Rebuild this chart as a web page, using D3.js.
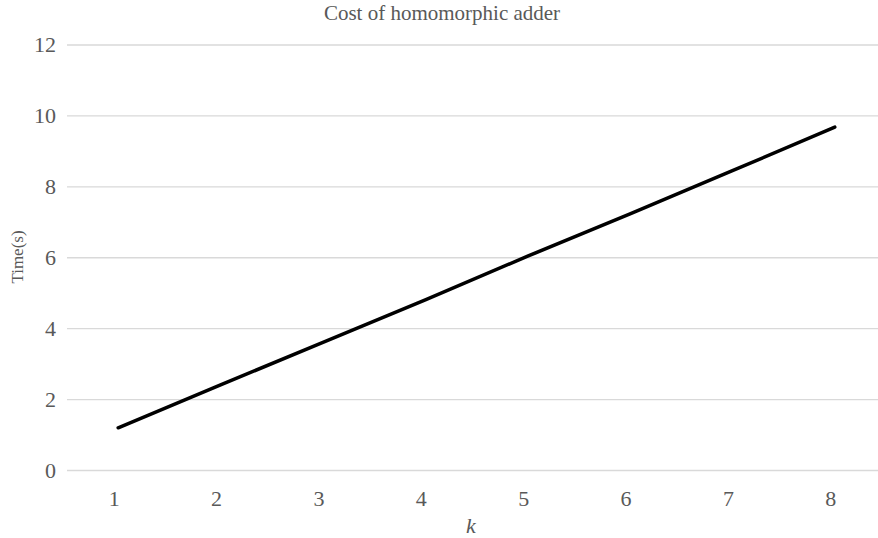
<!DOCTYPE html>
<html>
<head>
<meta charset="utf-8">
<script src="https://cdnjs.cloudflare.com/ajax/libs/d3/7.8.5/d3.min.js"></script>
<style>
  body { margin: 0; background: #fff; }
  #graphic svg, #graphic text { font-family: "Liberation Serif", "Times New Roman", serif; fill: #595959; }
</style>
</head>
<body>
<div id="graphic"></div>
<script>
// values
const categories = ["1", "2", "3", "4", "5", "6", "7", "8"];
const timeValues = [1.19, 2.40, 3.60, 4.80, 6.03, 7.22, 8.44, 9.67];
const yTicks = [0, 2, 4, 6, 8, 10, 12];

const outerWidth = 878;
const outerHeight = 538;
const plotLeft = 67;
const plotRight = 886;
const plotTop = 44.5;
const plotBottom = 470;

const svg = d3.select("#graphic")
  .append("svg")
  .attr("width", outerWidth)
  .attr("height", outerHeight);

const xScale = d3.scaleBand()
  .domain(categories)
  .range([plotLeft, plotRight])
  .padding(0);

const yScale = d3.scaleLinear()
  .domain([0, 12])
  .range([plotBottom, plotTop]);

// y axis with grid lines
const yAxis = d3.axisLeft(yScale)
  .tickValues(yTicks)
  .tickSize(-(plotRight - plotLeft))
  .tickPadding(11);

const yG = svg.append("g")
  .attr("class", "axis yaxis")
  .attr("transform", `translate(${plotLeft},0)`)
  .call(yAxis)
  .attr("font-family", null);
yG.select(".domain").remove();
yG.selectAll(".tick line").attr("stroke", "#d9d9d9").attr("stroke-width", 1.3);
yG.selectAll(".tick text").style("font-size", "22px");

// x axis, labels only (Excel draws them a touch left of the points)
const xAxis = d3.axisBottom(xScale)
  .tickSize(0)
  .tickPadding(20);

const xG = svg.append("g")
  .attr("class", "axis xaxis")
  .attr("transform", `translate(-4,${plotBottom})`)
  .call(xAxis)
  .attr("font-family", null);
xG.select(".domain").remove();
xG.selectAll(".tick text").style("font-size", "22px");

// the line
const line = d3.line()
  .x((d, i) => xScale(categories[i]) + xScale.bandwidth() / 2)
  .y(d => yScale(d));

svg.append("path")
  .datum(timeValues)
  .attr("fill", "none")
  .attr("stroke", "#000")
  .attr("stroke-width", 3.5)
  .attr("stroke-linecap", "round")
  .attr("stroke-linejoin", "round")
  .attr("d", line);

// titles
svg.append("text")
  .attr("x", 442)
  .attr("y", 20)
  .attr("text-anchor", "middle")
  .style("font-size", "21px")
  .text("Cost of homomorphic adder");

svg.append("text")
  .attr("x", 471)
  .attr("y", 533)
  .attr("text-anchor", "middle")
  .style("font-size", "22px")
  .style("font-style", "italic")
  .text("k");

svg.append("text")
  .attr("transform", "translate(17,257) rotate(-90)")
  .attr("dy", "0.35em")
  .attr("text-anchor", "middle")
  .style("font-size", "17px")
  .text("Time(s)");
</script>
</body>
</html>
